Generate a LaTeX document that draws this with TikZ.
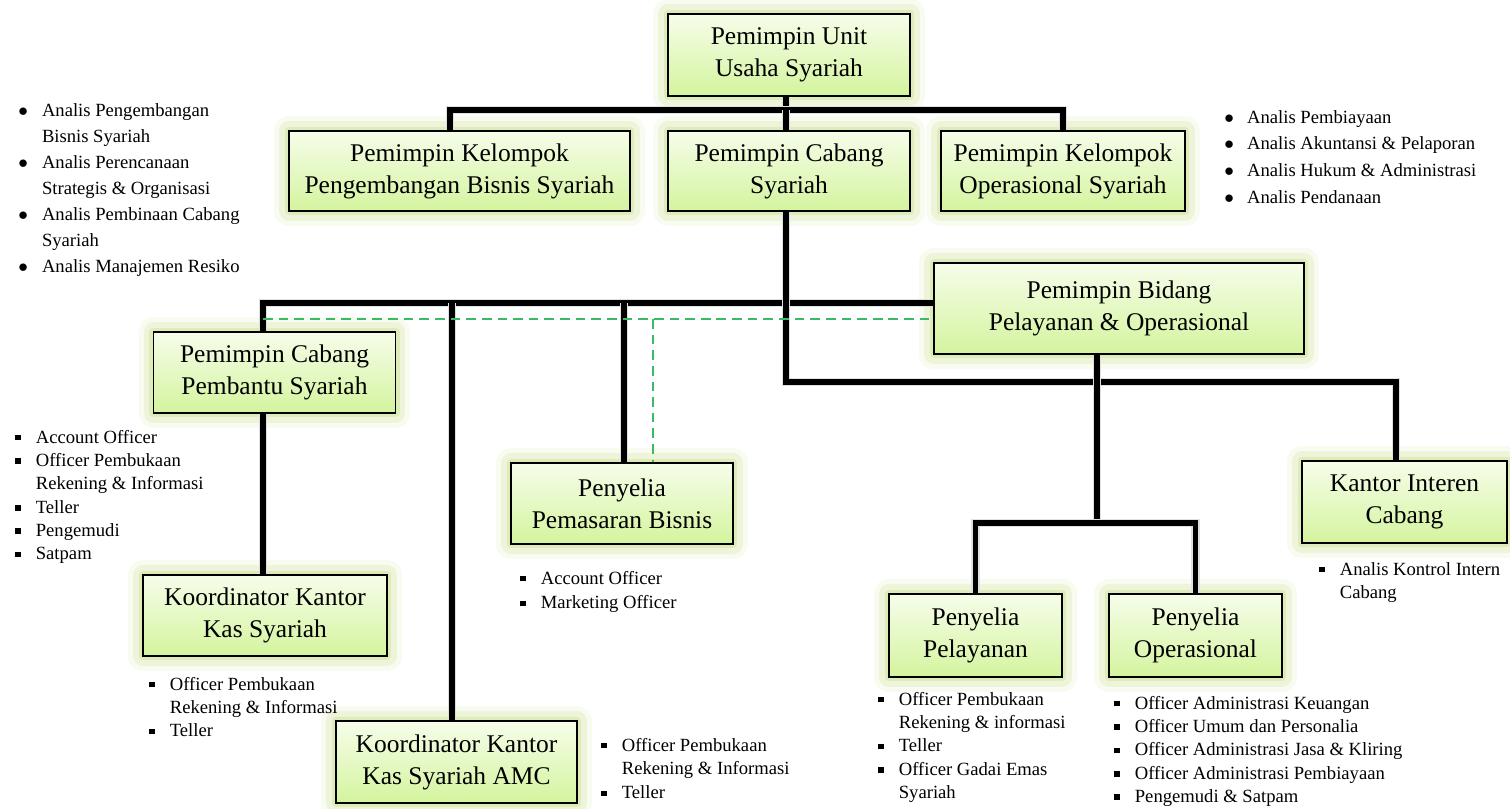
\documentclass[tikz,border=0pt]{standalone}
\usepackage{fontspec}
\setmainfont{Liberation Serif}
\usetikzlibrary{positioning}

\definecolor{boxtop}{RGB}{246,253,234}
\definecolor{boxbot}{RGB}{212,244,158}
\definecolor{glow}{RGB}{185,215,110}
\definecolor{dashgreen}{RGB}{60,185,100}

\newcommand{\sqbul}{\rule[0.14em]{0.3em}{0.3em}}
\newcommand{\rndbul}{$\bullet$}

\begin{document}
\begin{tikzpicture}[x=0.02cm,y=-0.02cm]
	\tikzset{
		unit/.style={draw, line width=1.1pt, top color=boxtop, bottom color=boxbot,
			align=center, inner sep=2pt, minimum width=4.84cm, minimum height=1.62cm,
			font=\fontsize{14.5}{18.2}\selectfont,
			preaction={draw=glow, line width=17pt, line join=round, opacity=0.1},
			preaction={draw=glow, line width=11pt, line join=round, opacity=0.18},
			preaction={draw=glow, line width=5pt, line join=round, opacity=0.3}},
		conn/.style={line width=3.3pt, preaction={draw=black!12, line width=4.8pt}},
		linkdash/.style={draw=dashgreen, line width=0.9pt, dash pattern=on 5.5pt off 3.4pt},
		lst/.style={anchor=base west, inner sep=0pt, font=\fontsize{10.6}{13.3}\selectfont}
	}
	\useasboundingbox (0,0) rectangle (1510,808);

	% boxes
	\node[unit, minimum height=1.64cm] (PU) at (789,55) {Pemimpin Unit\\Usaha Syariah};
	\node[unit, minimum width=6.82cm, minimum height=1.6cm] (PKB) at (459.5,171) {Pemimpin Kelompok\\Pengembangan Bisnis Syariah};
	\node[unit, minimum height=1.6cm] (PCS) at (789,171) {Pemimpin Cabang\\Syariah};
	\node[unit, minimum width=4.88cm, minimum height=1.6cm] (PKO) at (1063,171) {Pemimpin Kelompok\\Operasional Syariah};
	\node[unit, minimum width=7.4cm, minimum height=1.82cm] (PB) at (1119,308.5) {Pemimpin Bidang\\Pelayanan \& Operasional};
	\node[unit] (PCP) at (274.5,372.5) {Pemimpin Cabang\\Pembantu Syariah};
	\node[unit, minimum width=4.44cm] (PPB) at (622,503.5) {Penyelia\\Pemasaran Bisnis};
	\node[unit, minimum width=4.1cm, minimum height=1.64cm] (KIC) at (1404.5,502) {Kantor Interen\\Cabang};
	\node[unit, minimum width=4.88cm] (KKS) at (265,615.5) {Koordinator Kantor\\Kas Syariah};
	\node[unit, minimum width=3.46cm, minimum height=1.66cm] (PPL) at (975.5,635.5) {Penyelia\\Pelayanan};
	\node[unit, minimum width=3.46cm, minimum height=1.66cm] (PPO) at (1195.5,635.5) {Penyelia\\Operasional};
	\node[unit, minimum width=4.82cm, minimum height=1.64cm] (KKA) at (456.5,762) {Koordinator Kantor\\Kas Syariah AMC};

	% junctions
	\coordinate (t0) at (786,110);
	\coordinate (t1) at (450,110);
	\coordinate (t2) at (1063,110);
	\coordinate (j2) at (263,303);
	\coordinate (b2) at (452,303);
	\coordinate (b3) at (624,303);
	\coordinate (j3) at (786,382);
	\coordinate (k1) at (1396,382);
	\coordinate (j4) at (1097,523);
	\coordinate (d1) at (263,319);
	\coordinate (d2) at (653,319);

	% connectors
	\draw[conn] (PU.south -| t0) -- (t0);
	\draw[conn] (t1 |- PKB.north) -- (t1) -- (t2) -- (t2 |- PKO.north);
	\draw[conn] (t0) -- (PCS.north -| t0);
	\draw[conn] (PB.west |- j2) -- (j2) -- (PCP.north -| j2);
	\draw[conn] (PCP.south -| j2) -- (KKS.north -| j2);
	\draw[conn] (b2) -- (b2 |- KKA.north);
	\draw[conn] (b3) -- (b3 |- PPB.north);
	\draw[conn] (PCS.south -| j3) -- (j3) -- (k1) -- (k1 |- KIC.north);
	\draw[conn] (PB.south -| j4) -- (j4);
	\draw[conn] (PPL.north) |- (j4) -| (PPO.north);
	\draw[linkdash] (d1) -- (d1 -| PB.west);
	\draw[linkdash] (d2) -- (d2 |- PPB.north);

	% task lists
	\node[lst, font=\fontsize{10.6}{14.8}\selectfont] (lpkb) at (18,116) {\begin{tabular}[t]{@{}l@{\hspace{8pt}}l@{}}
		\rndbul & Analis Pengembangan\\
		 & Bisnis Syariah\\
		\rndbul & Analis Perencanaan\\
		 & Strategis \& Organisasi\\
		\rndbul & Analis Pembinaan Cabang\\
		 & Syariah\\
		\rndbul & Analis Manajemen Resiko
	\end{tabular}};
	\node[lst, font=\fontsize{10.6}{15.3}\selectfont] (lpko) at (1224,123) {\begin{tabular}[t]{@{}l@{\hspace{7.5pt}}l@{}}
		\rndbul & Analis Pembiayaan\\
		\rndbul & Analis Akuntansi \& Pelaporan\\
		\rndbul & Analis Hukum \& Administrasi\\
		\rndbul & Analis Pendanaan
	\end{tabular}};
	\node[lst] (lpcp) at (15,443) {\begin{tabular}[t]{@{}l@{\hspace{8.5pt}}l@{}}
		\sqbul & Account Officer\\
		\sqbul & Officer Pembukaan\\
		 & Rekening \& Informasi\\
		\sqbul & Teller\\
		\sqbul & Pengemudi\\
		\sqbul & Satpam
	\end{tabular}};
	\node[lst] (lkks) at (149,690) {\begin{tabular}[t]{@{}l@{\hspace{8.5pt}}l@{}}
		\sqbul & Officer Pembukaan\\
		 & Rekening \& Informasi\\
		\sqbul & Teller
	\end{tabular}};
	\node[lst, font=\fontsize{10.6}{14.2}\selectfont] (lppb) at (520,584) {\begin{tabular}[t]{@{}l@{\hspace{8.5pt}}l@{}}
		\sqbul & Account Officer\\
		\sqbul & Marketing Officer
	\end{tabular}};
	\node[lst, font=\fontsize{10.6}{13.6}\selectfont] (lkic) at (1319,575) {\begin{tabular}[t]{@{}l@{\hspace{8.5pt}}l@{}}
		\sqbul & Analis Kontrol Intern\\
		 & Cabang
	\end{tabular}};
	\node[lst, font=\fontsize{10.6}{13.6}\selectfont] (lkka) at (601,751) {\begin{tabular}[t]{@{}l@{\hspace{8.5pt}}l@{}}
		\sqbul & Officer Pembukaan\\
		 & Rekening \& Informasi\\
		\sqbul & Teller
	\end{tabular}};
	\node[lst] (lppl) at (878,705) {\begin{tabular}[t]{@{}l@{\hspace{8.5pt}}l@{}}
		\sqbul & Officer Pembukaan\\
		 & Rekening \& informasi\\
		\sqbul & Teller\\
		\sqbul & Officer Gadai Emas\\
		 & Syariah
	\end{tabular}};
	\node[lst] (lppo) at (1114,709) {\begin{tabular}[t]{@{}l@{\hspace{8.5pt}}l@{}}
		\sqbul & Officer Administrasi Keuangan\\
		\sqbul & Officer Umum dan Personalia\\
		\sqbul & Officer Administrasi Jasa \& Kliring\\
		\sqbul & Officer Administrasi Pembiayaan\\
		\sqbul & Pengemudi \& Satpam
	\end{tabular}};
\end{tikzpicture}
\end{document}
